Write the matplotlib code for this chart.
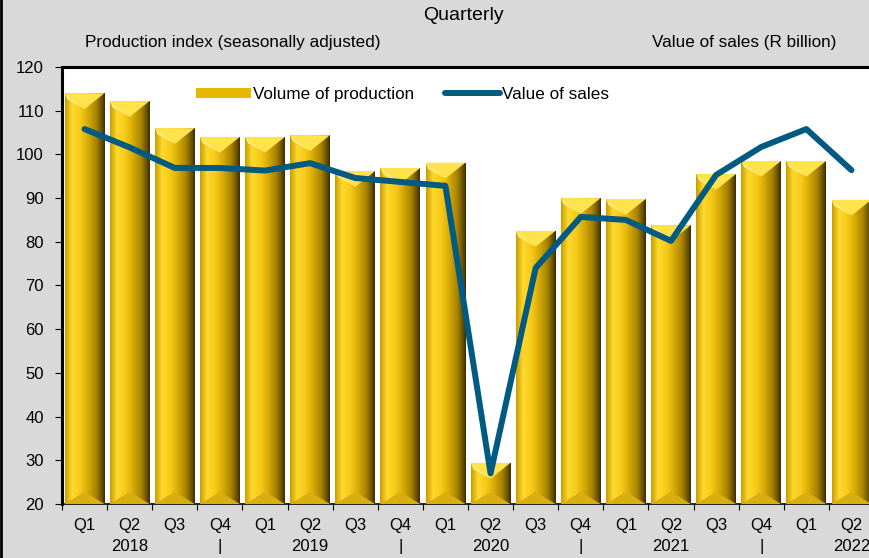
import matplotlib
matplotlib.use("Agg")
import matplotlib.pyplot as plt
import numpy as np
from matplotlib.colors import LinearSegmentedColormap
from matplotlib.lines import Line2D
from matplotlib.patches import Polygon

plt.rcParams["font.family"] = ["Liberation Sans", "DejaVu Sans"]

quarters = ["Q1", "Q2", "Q3", "Q4"] * 4 + ["Q1", "Q2"]
years = ["2018", "|", "2019", "|", "2020", "|", "2021", "|", "2022"]
production = [114.0, 112.2, 106.0, 104.0, 104.0, 104.4, 96.2, 96.9, 98.1,
              29.4, 82.5, 90.0, 89.8, 83.8, 95.5, 98.5, 98.5, 89.6]
sales = [105.8, 101.6, 96.9, 96.9, 96.3, 98.0, 94.6, 93.7, 92.8,
         27.0, 74.0, 85.7, 85.0, 80.2, 95.3, 101.7, 105.8, 96.4]

Y_MIN, Y_MAX = 20, 120
BAR_W = 0.88
GOLD = "#E6B800"
LINE_COLOR = "#005A82"

gold_cmap = LinearSegmentedColormap.from_list(
    "gold",
    [(0.0, "#C89E00"), (0.18, "#FFD92E"), (0.38, "#F7CA18"), (0.55, "#DDB00A"),
     (0.78, "#A88400"), (0.92, "#6A5200"), (1.0, "#3A2C00")],
)
grad = np.linspace(0, 1, 128).reshape(1, -1)

# x labels: quarter on top, year (or separator) on Q2 / Q4
xlabels = []
yi = 0
for q in quarters:
    if q in ("Q2", "Q4"):
        xlabels.append(f"{q}\n{years[yi]}")
        yi += 1
    else:
        xlabels.append(q)

fig = plt.figure(figsize=(8.69, 5.58), dpi=100, facecolor="#D9D9D9")
ax = fig.add_axes([62 / 869, 1 - 504 / 558, 812 / 869, 437 / 558])
ax.set_facecolor("white")

x = np.arange(len(production))
bars = ax.bar(x, np.array(production) - Y_MIN, bottom=Y_MIN, width=BAR_W,
              color=GOLD, edgecolor="none", zorder=2, label="Volume of production")

top_d = 3.6
bot_d = 2.8
for xi, v, patch in zip(x, production, bars):
    x0, x1 = xi - BAR_W / 2, xi + BAR_W / 2
    im = ax.imshow(grad, cmap=gold_cmap, aspect="auto", extent=(x0, x1, Y_MIN, v),
                   zorder=3, interpolation="bilinear")
    im.set_clip_path(patch)
    # top bevel (V)
    ax.add_patch(Polygon([(x0, v), (x1, v), (xi, v - top_d)], closed=True,
                         facecolor="#FFE34D", edgecolor="none", zorder=4))
    ax.add_patch(Polygon([(x0, v), (xi, v - top_d), (x0 + 0.06, v - top_d * 0.4)],
                         closed=True, facecolor="#FFEB7A", edgecolor="none", zorder=4))
    # bottom bevel
    ax.add_patch(Polygon([(x0, Y_MIN), (x1, Y_MIN), (xi, Y_MIN + bot_d)], closed=True,
                         facecolor="#D9AE12", edgecolor="none", zorder=4))

ax.plot(x, sales, color=LINE_COLOR, lw=4.3, solid_capstyle="round",
        solid_joinstyle="round", zorder=5, label="Value of sales")

ax.set_xlim(-0.5, len(production) - 0.5)
ax.set_ylim(Y_MIN, Y_MAX)
ax.set_yticks(np.arange(20, 121, 10))
ax.set_xticks(x)
ax.set_xticklabels(xlabels, linespacing=1.55)
ax.set_xticks(np.arange(-0.5, len(production), 1), minor=True)
ax.tick_params(axis="x", which="major", length=0, pad=10, labelsize=12)
ax.tick_params(axis="x", which="minor", length=4, width=0.8, direction="out")
ax.tick_params(axis="y", length=5, width=0.8, pad=8, labelsize=12)

for side in ("left", "top", "right"):
    ax.spines[side].set_linewidth(2.2)
ax.spines["bottom"].set_linewidth(1.2)

handles, labels = ax.get_legend_handles_labels()
order = [labels.index("Volume of production"), labels.index("Value of sales")]
ax.legend([handles[i] for i in order], [labels[i] for i in order],
          loc="upper left", bbox_to_anchor=(0.146, 0.99), ncol=2, frameon=False,
          fontsize=12.3, handlelength=3.2, handleheight=0.5, handletextpad=0.15,
          columnspacing=1.8)

fig.text(463 / 869, 1 - 15 / 558, "Quarterly", ha="center", va="center", fontsize=14)
fig.text(85 / 869, 1 - 42 / 558, "Production index (seasonally adjusted)", ha="left",
         va="center", fontsize=12.3)
fig.text(652 / 869, 1 - 42 / 558, "Value of sales (R billion)", ha="left",
         va="center", fontsize=12.3)
fig.add_artist(Line2D([0.001, 0.001], [0, 1], transform=fig.transFigure,
                      color="black", lw=2))

fig.savefig("out.png", dpi=100, facecolor=fig.get_facecolor())
